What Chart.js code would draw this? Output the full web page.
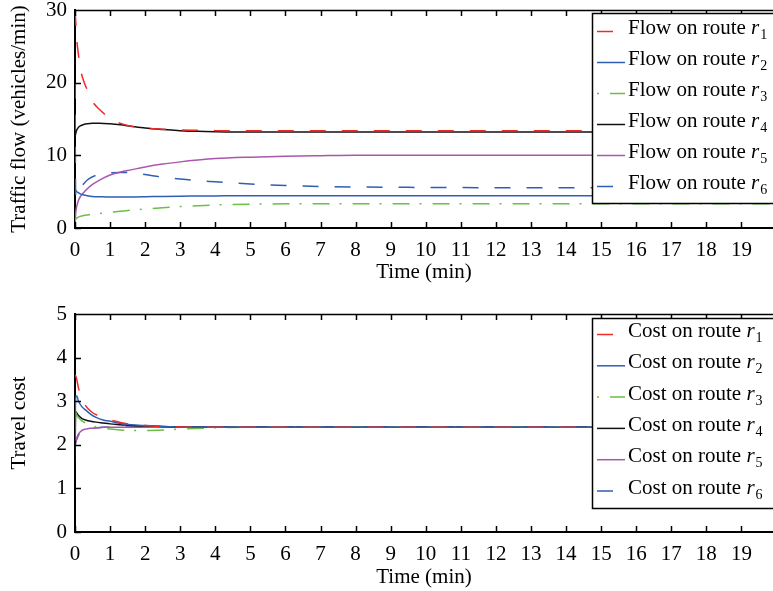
<!DOCTYPE html>
<html>
<head>
<meta charset="utf-8">
<script src="https://cdn.jsdelivr.net/npm/chart.js@4.4.0/dist/chart.umd.min.js"></script>
<style>
  html, body { margin: 0; padding: 0; background: #fff; overflow: hidden; }
  #wrap { position: relative; width: 773px; height: 591px; }
  canvas { position: absolute; left: 0; }
  #flow-chart { top: 0; }
  #cost-chart { top: 290px; }
</style>
</head>
<body>
<div id="wrap">
  <canvas id="flow-chart" width="773" height="290"></canvas>
  <canvas id="cost-chart" width="773" height="301"></canvas>
</div>
<script>
// --- data ---
const flowTime = [0, 0.02, 0.05, 0.1, 0.15, 0.25, 0.35, 0.5, 0.7, 1, 1.3, 1.6, 2, 2.5, 3, 3.5, 4, 5, 6, 7, 8, 10, 12, 15, 19.9];
const flowR1 = [30, 28.5, 26, 23.8, 22, 20.2, 19.0, 17.4, 16.3, 15.1, 14.4, 14.0, 13.75, 13.6, 13.5, 13.45, 13.4, 13.4, 13.4, 13.4, 13.4, 13.4, 13.4, 13.4, 13.4];
const flowR2 = [5.3, 5.2, 5.0, 4.85, 4.7, 4.55, 4.45, 4.35, 4.3, 4.25, 4.25, 4.27, 4.3, 4.35, 4.38, 4.4, 4.42, 4.45, 4.45, 4.45, 4.45, 4.45, 4.45, 4.45, 4.45];
const flowR3 = [1.0, 1.2, 1.35, 1.5, 1.6, 1.72, 1.8, 1.9, 2.0, 2.15, 2.3, 2.45, 2.6, 2.8, 2.95, 3.07, 3.17, 3.28, 3.33, 3.35, 3.35, 3.35, 3.35, 3.35, 3.35];
const flowR4 = [12.5, 13.0, 13.5, 13.85, 14.05, 14.25, 14.35, 14.42, 14.43, 14.35, 14.2, 14.0, 13.75, 13.55, 13.4, 13.3, 13.25, 13.2, 13.2, 13.2, 13.2, 13.2, 13.2, 13.2, 13.2];
const flowR5 = [0, 2.0, 3.0, 3.8, 4.3, 4.9, 5.4, 6.0, 6.6, 7.3, 7.7, 8.0, 8.4, 8.8, 9.1, 9.35, 9.55, 9.75, 9.88, 9.95, 10, 10, 10, 10, 10];
const flowR6 = [20, 4.3, 4.6, 5.1, 5.5, 6.1, 6.6, 7.05, 7.4, 7.6, 7.65, 7.6, 7.35, 7.0, 6.75, 6.5, 6.35, 6.05, 5.85, 5.72, 5.65, 5.58, 5.55, 5.55, 5.55];

const costTime = [0, 0.02, 0.05, 0.1, 0.2, 0.3, 0.45, 0.6, 0.8, 1, 1.3, 1.6, 2, 2.5, 3, 4, 5, 19.9];
const costR1 = [3.6, 3.58, 3.5, 3.3, 3.05, 2.9, 2.77, 2.69, 2.62, 2.57, 2.51, 2.47, 2.44, 2.42, 2.41, 2.4, 2.4, 2.4];
const costR2 = [2.1, 3.12, 3.12, 3.0, 2.87, 2.8, 2.7, 2.63, 2.57, 2.54, 2.49, 2.46, 2.44, 2.42, 2.41, 2.4, 2.4, 2.4];
const costR3 = [2.8, 2.75, 2.68, 2.62, 2.55, 2.5, 2.45, 2.41, 2.38, 2.36, 2.34, 2.33, 2.33, 2.34, 2.36, 2.39, 2.4, 2.4];
const costR4 = [1.6, 2.76, 2.73, 2.67, 2.6, 2.57, 2.54, 2.52, 2.5, 2.48, 2.46, 2.44, 2.43, 2.42, 2.41, 2.4, 2.4, 2.4];
const costR5 = [2.4, 2.05, 2.15, 2.25, 2.33, 2.36, 2.38, 2.39, 2.4, 2.4, 2.4, 2.4, 2.4, 2.4, 2.4, 2.4, 2.4, 2.4];
const costR6 = [1.9, 2.05, 2.12, 2.22, 2.3, 2.35, 2.38, 2.39, 2.4, 2.4, 2.41, 2.41, 2.41, 2.41, 2.41, 2.41, 2.41, 2.41];

const flowTicksY = [0, 10, 20, 30];
const costTicksY = [0, 1, 2, 3, 4, 5];
const routeNames = ["1", "2", "3", "4", "5", "6"];

// styles per route
const routeColors = ["#ee2a2a", "#2f5fb3", "#6abf45", "#111111", "#a957ad", "#2f5fb3"];
const routeDashes = [[16, 16], [], [17, 10, 2, 11], [], [], [16, 16]];
const dashStart = [0, 0, 27, 0, 0, 0];

const FONT = "Liberation Serif";
const FSIZE = 21;
Chart.defaults.font.family = FONT;
Chart.defaults.font.size = FSIZE;
Chart.defaults.color = "#000";

const toPoints = (xs, ys) => xs.map((x, i) => ({ x, y: ys[i] }));

function makeDatasets(time, series) {
  return series.map((vals, i) => ({
    data: toPoints(time, vals),
    borderColor: routeColors[i],
    borderDash: routeDashes[i],
    borderWidth: 1.5,
    pointRadius: 0,
    fill: false,
    cubicInterpolationMode: "monotone"
  }));
}

// inner ticks, top frame line and the boxed legend
const framePlugin = {
  id: "frame",
  afterDatasetsDraw(chart) {
    const { ctx, chartArea: a, scales: { x, y } } = chart;
    ctx.save();
    ctx.strokeStyle = "#000";
    ctx.lineWidth = 1.5;
    ctx.setLineDash([]);
    ctx.beginPath();
    ctx.moveTo(a.left, a.top + 0.5);
    ctx.lineTo(a.right, a.top + 0.5);
    x.ticks.forEach(t => {
      const px = Math.round(x.getPixelForValue(t.value)) + 0.5;
      ctx.moveTo(px, a.bottom);
      ctx.lineTo(px, a.bottom - 6);
      ctx.moveTo(px, a.top);
      ctx.lineTo(px, a.top + 6);
    });
    y.ticks.forEach(t => {
      const py = Math.round(y.getPixelForValue(t.value)) + 0.5;
      ctx.moveTo(a.left, py);
      ctx.lineTo(a.left + 6, py);
    });
    ctx.stroke();
    ctx.restore();
  },
  afterDraw(chart, args, opts) {
    const { ctx } = chart;
    const { boxTop, boxHeight, rowTop, rowGap, prefix } = opts;
    ctx.save();
    ctx.fillStyle = "#fff";
    ctx.fillRect(592, boxTop, chart.width, boxHeight);
    ctx.strokeStyle = "#000";
    ctx.lineWidth = 1.5;
    ctx.strokeRect(592.5, boxTop + 0.5, chart.width, boxHeight);
    chart.data.datasets.forEach((ds, i) => {
      const yy = rowTop + i * rowGap;
      ctx.strokeStyle = ds.borderColor;
      ctx.lineWidth = 1.5;
      ctx.setLineDash(ds.borderDash);
      ctx.lineDashOffset = dashStart[i];
      ctx.beginPath();
      ctx.moveTo(597, yy + 0.5);
      ctx.lineTo(625, yy + 0.5);
      ctx.stroke();
      ctx.setLineDash([]);
      const base = yy + 3;
      ctx.fillStyle = "#000";
      ctx.textBaseline = "alphabetic";
      ctx.font = `${FSIZE}px "${FONT}"`;
      ctx.fillText(prefix, 628, base);
      let w = ctx.measureText(prefix).width;
      ctx.font = `italic ${FSIZE}px "${FONT}"`;
      ctx.fillText("r", 628 + w, base);
      w += ctx.measureText("r").width;
      ctx.font = `14px "${FONT}"`;
      ctx.fillText(routeNames[i], 629 + w, base + 5);
    });
    ctx.restore();
  }
};

function makeChart(canvas, time, series, yMax, yTicks, yTitle, xHeight, titleBottomPad, legend, topPad) {
  return new Chart(canvas.getContext("2d"), {
    type: "line",
    data: { datasets: makeDatasets(time, series) },
    plugins: [framePlugin],
    options: {
      responsive: false,
      animation: false,
      events: [],
      layout: { padding: { top: topPad, left: 0, right: 0, bottom: 0 } },
      plugins: { legend: { display: false }, tooltip: { enabled: false }, frame: legend },
      scales: {
        x: {
          type: "linear",
          min: 0,
          max: 19.9,
          ticks: { stepSize: 1, includeBounds: false, autoSkip: false, maxRotation: 0, padding: 10, color: "#000" },
          grid: { display: false, drawTicks: false },
          border: { display: true, color: "#000", width: 2 },
          title: { display: true, text: "Time (min)", color: "#000", padding: { top: 0, bottom: titleBottomPad } },
          afterFit: s => { s.height = xHeight; s.paddingLeft = 0; s.paddingRight = 0; }
        },
        y: {
          min: 0,
          max: yMax,
          afterBuildTicks: s => { s.ticks = yTicks.map(v => ({ value: v })); },
          ticks: { padding: 8, color: "#000" },
          grid: { display: false, drawTicks: false },
          border: { display: true, color: "#000", width: 2 },
          title: { display: true, text: yTitle, color: "#000", padding: { top: 7, bottom: 0 } },
          afterFit: s => { s.width = 75; s.paddingTop = 0; s.paddingBottom = 0; }
        }
      }
    }
  });
}

makeChart(
  document.getElementById("flow-chart"),
  flowTime, [flowR1, flowR2, flowR3, flowR4, flowR5, flowR6],
  30, flowTicksY, "Traffic flow (vehicles/min)", 62, 5,
  { boxTop: 13, boxHeight: 190, rowTop: 31, rowGap: 31, prefix: "Flow on route " },
  10
);

makeChart(
  document.getElementById("cost-chart"),
  costTime, [costR1, costR2, costR3, costR4, costR5, costR6],
  5, costTicksY, "Travel cost", 59, 1,
  { boxTop: 28, boxHeight: 190, rowTop: 44, rowGap: 31.3, prefix: "Cost on route " },
  24
);
</script>
</body>
</html>
